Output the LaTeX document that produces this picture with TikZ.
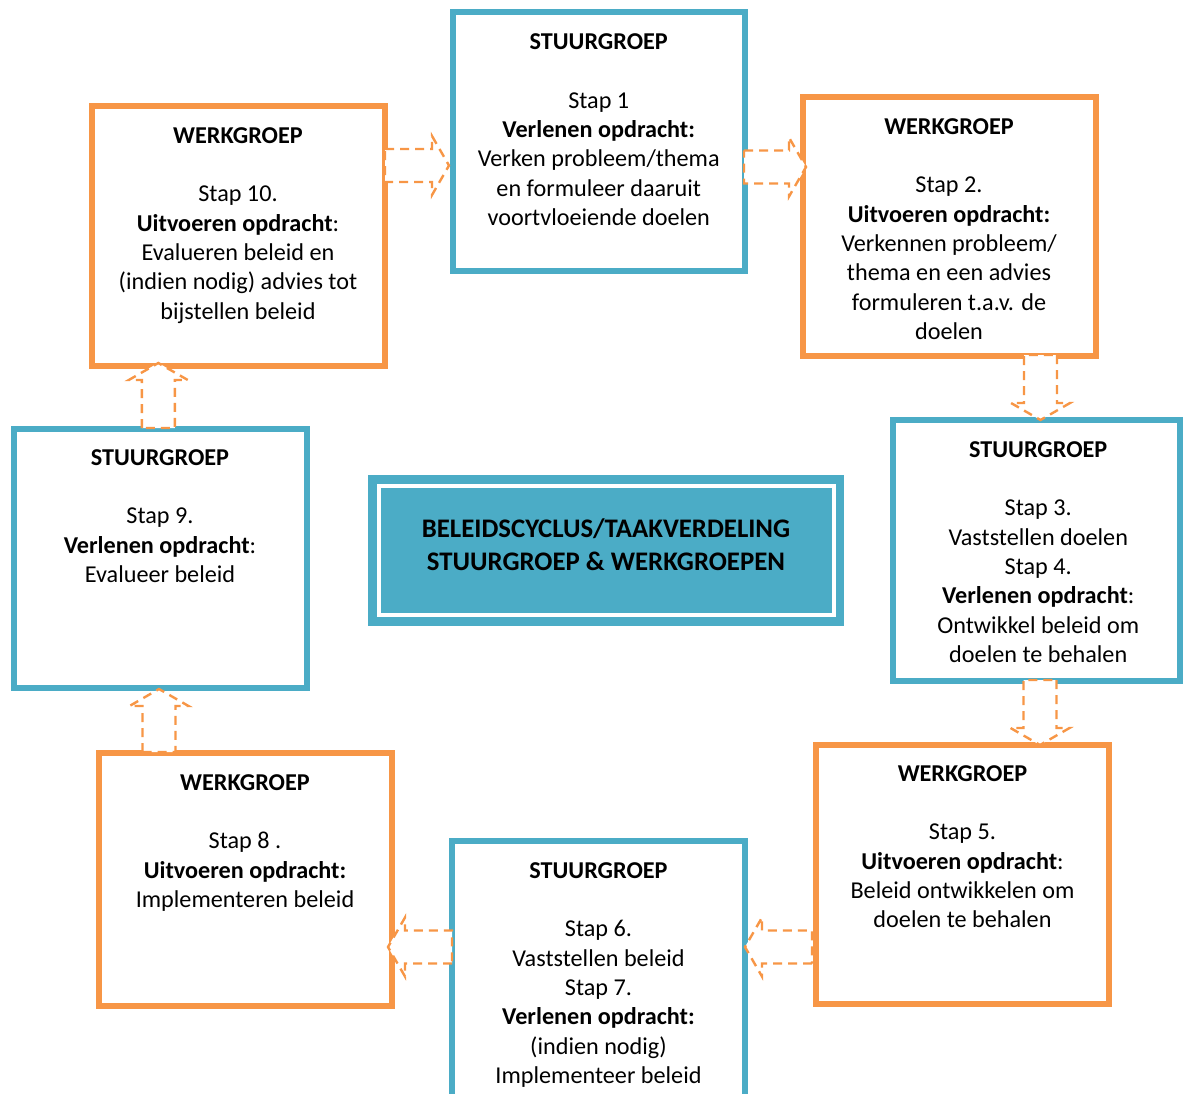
\documentclass[tikz,border=0pt]{standalone}
\usepackage{fontspec}
\setmainfont{Carlito}
\definecolor{orng}{HTML}{F79646}
\definecolor{blu}{HTML}{4BACC6}
\newcommand{\blockarrow}[4]{%
  \begin{scope}[shift={(#1,#2)},rotate=#3]
    \draw[barrow] (0,-16.5) -- (#4-17,-16.5) -- (#4-17,-29.5) -- (#4,0) -- (#4-17,29.5) -- (#4-17,16.5) -- (0,16.5) -- cycle;
  \end{scope}}
\begin{document}
\begin{tikzpicture}[x=1pt,y=-1pt,
  box/.style={draw, line width=6pt, fill=white, inner sep=0pt, rectangle},
  stuur/.style={box, draw=blu},
  werk/.style={box, draw=orng},
  txt/.style={align=center, inner sep=0pt, anchor=north, font=\fontsize{24.2}{29.3}\selectfont},
  barrow/.style={draw=orng, fill=white, line width=2.4pt, dash pattern=on 9pt off 6pt, line join=miter}]
\useasboundingbox (0,0) rectangle (1183,1094);
% boxes
\node[stuur, minimum width=292.5pt, minimum height=258.5pt] (b1) at (598.75,141.75) {};
\node[werk, minimum width=293pt, minimum height=260pt] (b10) at (238,236) {};
\node[werk, minimum width=293pt, minimum height=259pt] (b2) at (949,226.5) {};
\node[stuur, minimum width=287.5pt, minimum height=261pt] (b3) at (1036.25,550.5) {};
\node[stuur, minimum width=293pt, minimum height=259.5pt] (b9) at (160,558.25) {};
\node[werk, minimum width=293pt, minimum height=252.5pt] (b8) at (245,879.25) {};
\node[stuur, minimum width=293pt, minimum height=270pt] (b6) at (598.5,976) {};
\node[werk, minimum width=293pt, minimum height=259.5pt] (b5) at (962.5,874.25) {};
% centre title
\node[fill=blu, minimum width=476pt, minimum height=151pt, inner sep=0pt] (c) at (606,550.5) {};
\node[draw=white, line width=4.5pt, minimum width=455pt, minimum height=129pt, inner sep=0pt] (ci) at (606.5,550.5) {};
\node[align=center, font=\fontsize{26.8}{33}\selectfont\bfseries] (ct) at (606,544.5) {BELEIDSCYCLUS/TAAKVERDELING\\STUURGROEP \& WERKGROEPEN};
% texts
\node[txt] (t1) at ([yshift=-19.5pt]b1.north) {\strut\textbf{STUURGROEP}\\[29.3pt]Stap 1\\\textbf{Verlenen opdracht:}\\Verken probleem/thema\\en formuleer daaruit\\voortvloeiende doelen};
\node[txt] (t10) at ([yshift=-19.5pt]b10.north) {\strut\textbf{WERKGROEP}\\[29.3pt]Stap 10.\\\textbf{Uitvoeren opdracht}:\\Evalueren beleid en\\(indien nodig) advies tot\\bijstellen beleid};
\node[txt] (t2) at ([yshift=-19.5pt]b2.north) {\strut\textbf{WERKGROEP}\\[29.3pt]Stap 2.\\\textbf{Uitvoeren opdracht:}\\Verkennen probleem/\\thema en een advies\\formuleren t.a.v. de\\doelen};
\node[txt] (t3) at ([xshift=2pt,yshift=-19.5pt]b3.north) {\strut\textbf{STUURGROEP}\\[29.3pt]Stap 3.\\Vaststellen doelen\\Stap 4.\\\textbf{Verlenen opdracht}:\\Ontwikkel beleid om\\doelen te behalen};
\node[txt] (t9) at ([yshift=-19pt]b9.north) {\strut\textbf{STUURGROEP}\\[29.3pt]Stap 9.\\\textbf{Verlenen opdracht}:\\Evalueer beleid};
\node[txt] (t8) at ([yshift=-19.5pt]b8.north) {\strut\textbf{WERKGROEP}\\[29.3pt]Stap 8 .\\\textbf{Uitvoeren opdracht:}\\Implementeren beleid};
\node[txt] (t6) at ([yshift=-19.5pt]b6.north) {\strut\textbf{STUURGROEP}\\[29.3pt]Stap 6.\\Vaststellen beleid\\Stap 7.\\\textbf{Verlenen opdracht:}\\(indien nodig)\\Implementeer beleid};
\node[txt] (t5) at ([yshift=-19pt]b5.north) {\strut\textbf{WERKGROEP}\\[29.3pt]Stap 5.\\\textbf{Uitvoeren opdracht}:\\Beleid ontwikkelen om\\doelen te behalen};
% arrows
\blockarrow{385}{165.5}{0}{64}
\blockarrow{744}{167}{0}{62}
\blockarrow{1040.5}{355}{-90}{65}
\blockarrow{1040}{680}{-90}{65}
\blockarrow{812}{947}{180}{67}
\blockarrow{452}{947}{180}{64}
\blockarrow{159}{752}{90}{63}
\blockarrow{158.3}{428}{90}{65}
\end{tikzpicture}
\end{document}
